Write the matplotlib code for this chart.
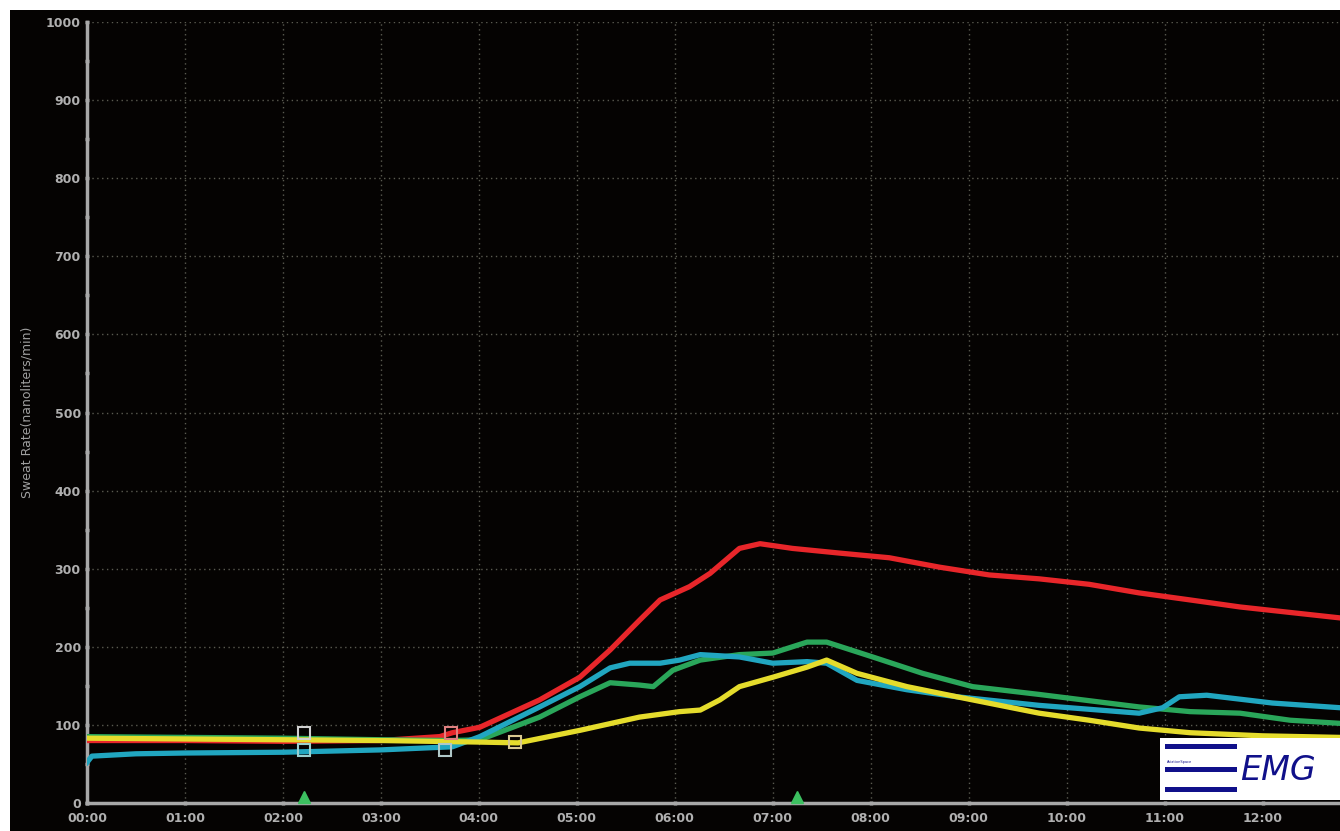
import matplotlib
matplotlib.use("Agg")
import matplotlib.pyplot as plt
from matplotlib.patches import Rectangle
import numpy as np

# time in hours
red_t = [0, 1, 2, 3, 3.6, 3.73, 4.01, 4.62, 5.03, 5.34, 5.64, 5.85, 6.15, 6.36, 6.66, 6.87, 7.2, 7.68, 8.19, 8.70, 9.21, 9.72, 10.23, 10.74, 11.26, 11.77, 12.79]
red_v = [80, 80, 79, 80, 85, 90, 97, 132, 161, 196, 234, 260, 277, 294, 326, 332, 326, 320, 314, 302, 292, 287, 280, 269, 260, 251, 237]

cyan_t = [0, 0.05, 0.5, 1, 2, 3, 3.73, 4.01, 4.62, 5.03, 5.34, 5.54, 5.85, 6.05, 6.26, 6.66, 7.0, 7.35, 7.55, 7.86, 8.37, 8.88, 9.72, 10.23, 10.74, 10.98, 11.15, 11.43, 12.1, 12.79]
cyan_v = [52, 60, 63, 64, 65, 68, 72, 85, 123, 149, 173, 179, 179, 183, 190, 187, 179, 181, 179, 157, 145, 136, 125, 120, 115, 122, 136, 138, 128, 122]

green_t = [0, 1, 2, 3, 3.73, 4.01, 4.62, 5.03, 5.34, 5.64, 5.78, 5.98, 6.26, 6.66, 7.0, 7.35, 7.55, 8.02, 8.53, 9.04, 9.72, 10.74, 11.26, 11.77, 12.28, 12.79]
green_v = [85, 84, 83, 81, 80, 81, 110, 136, 154, 151, 149, 170, 183, 190, 192, 206, 206, 187, 166, 149, 139, 123, 117, 115, 106, 102]

yellow_t = [0, 1, 2, 3, 4.01, 4.4, 5.03, 5.64, 6.05, 6.26, 6.46, 6.66, 7.0, 7.35, 7.55, 7.86, 8.37, 8.88, 9.72, 10.23, 10.74, 11.26, 12.0, 12.79]
yellow_v = [83, 82, 81, 80, 78, 77, 93, 110, 117, 119, 132, 149, 161, 174, 183, 166, 149, 136, 115, 106, 96, 90, 86, 84]

# event markers
sq_t = [2.22, 2.22, 3.72, 3.65, 4.37]
sq_v = [90, 68, 89, 68, 78]
sq_c = ["#d0d0d0", "#9ad0d0", "#e08080", "#b0c8c8", "#d8c890"]
tri_t = [2.22, 7.25]

x_ticks = list(range(13))
x_labels = ["%02d:00" % h for h in x_ticks]
y_ticks = list(range(0, 1001, 100))
y_label = "Sweat Rate(nanoliters/min)"

fig = plt.figure(figsize=(13.4, 8.31), dpi=100, facecolor="white")
bg = Rectangle((10/1340, 0), 1, 1 - 10/831, transform=fig.transFigure,
               facecolor="#050302", edgecolor="none", zorder=-10)
fig.patches.append(bg)
ax = fig.add_axes([87/1340, 1 - 803/831, 1 - 87/1340, (803 - 22)/831])
ax.set_zorder(1)
ax.set_facecolor("#050302")
ax.set_xlim(0, 12.79)
ax.set_ylim(0, 1000)

ax.grid(True, which="major", color="#5a5a50", linestyle=(0, (1, 2.5)), linewidth=1.0)
for s in ["top", "right"]:
    ax.spines[s].set_visible(False)
for s in ["left", "bottom"]:
    ax.spines[s].set_color("#a8a8a8")
    ax.spines[s].set_linewidth(2.5)

ax.set_xticks(x_ticks)
ax.set_xticklabels(x_labels)
ax.set_yticks(y_ticks)
ax.set_yticks(np.arange(50, 1000, 100), minor=True)
ax.tick_params(axis="both", which="both", colors="#a8a8a8", labelcolor="#b0b0b0",
               labelsize=9, length=3, width=2.5, direction="inout")
ax.tick_params(axis="x", pad=5)
ax.tick_params(axis="y", pad=3)
for lab in ax.get_xticklabels() + ax.get_yticklabels():
    lab.set_fontweight("bold")
ax.set_ylabel(y_label, color="#a0a0a0", fontsize=9)
ax.yaxis.set_label_coords(-0.043, 0.5)

lw = 3.8
ax.plot(red_t, red_v, color="#e8262a", lw=lw, solid_joinstyle="round", zorder=3)
ax.plot(green_t, green_v, color="#2aa65a", lw=lw, solid_joinstyle="round", zorder=4)
ax.plot(cyan_t, cyan_v, color="#21a6c0", lw=lw, solid_joinstyle="round", zorder=4)
ax.plot(yellow_t, yellow_v, color="#e5dc2c", lw=lw, solid_joinstyle="round", zorder=5)

for t, v, c in zip(sq_t, sq_v, sq_c):
    ax.plot([t], [v], marker="s", ms=9, mfc="none", mec=c, mew=1.5, zorder=6)
ax.plot(tri_t, [8] * len(tri_t), linestyle="none", marker="^", ms=9, color="#3cc060",
        zorder=7, clip_on=False)

# logo
lx0, ly0, lw_, lh = 1160/1340, 1 - 800/831, 180/1340, 62/831
logo = Rectangle((lx0, ly0), lw_, lh, transform=fig.transFigure,
                 facecolor="white", edgecolor="none", zorder=10)
fig.patches.append(logo)
for yy in [746, 769, 789]:
    fig.patches.append(Rectangle((1165/1340, 1 - (yy + 2.5)/831), 72/1340, 5/831,
                                 transform=fig.transFigure, facecolor="#10108a",
                                 edgecolor="none", zorder=11))
fig.text(1167/1340, 1 - 762/831, "AviationSpace", fontsize=2.5, color="#10108a", zorder=12,
         va="center")
fig.text(1240/1340, 1 - 770/831, "EMG", fontsize=24, style="italic", color="#10108a",
         va="center", ha="left", zorder=12, family="DejaVu Sans")

fig.savefig("out.png", dpi=100, facecolor="white")
